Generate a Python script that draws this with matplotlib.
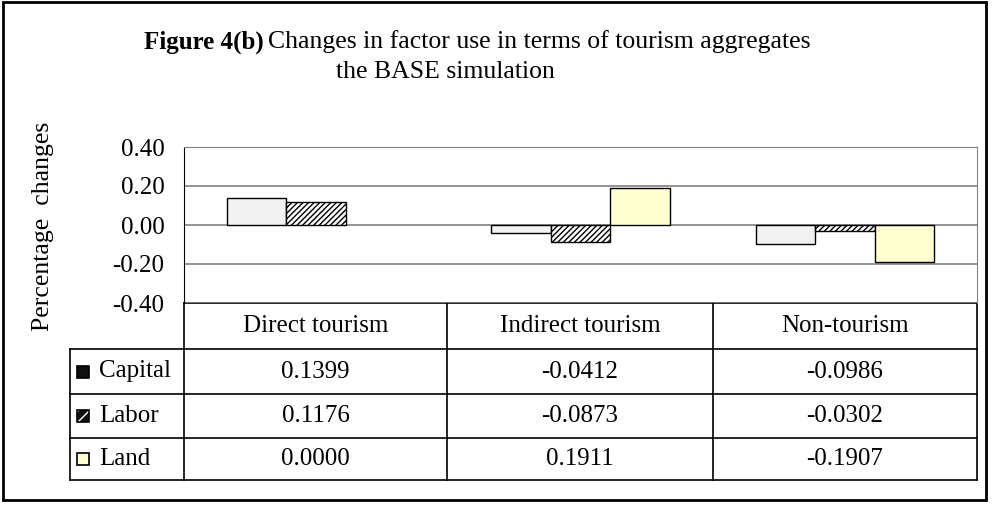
import matplotlib
matplotlib.use("Agg")
import matplotlib.pyplot as plt
from matplotlib.patches import Rectangle
import numpy as np

categories = ["Direct tourism", "Indirect tourism", "Non-tourism"]
series = ["Capital", "Labor", "Land"]
capital = [0.1399, -0.0412, -0.0986]
labor = [0.1176, -0.0873, -0.0302]
land = [0.0000, 0.1911, -0.1907]
yticks = [0.40, 0.20, 0.00, -0.20, -0.40]

plt.rcParams['font.family'] = ['Liberation Serif', 'DejaVu Serif']
plt.rcParams['hatch.linewidth'] = 1.0

W, H = 997, 508
FS = 18
fig = plt.figure(figsize=(W / 100, H / 100), dpi=100)

# overlay in pixel coords
ov = fig.add_axes([0, 0, 1, 1], zorder=0)
ov.set_xlim(0, W)
ov.set_ylim(H, 0)
ov.axis('off')

# outer border
ov.add_patch(Rectangle((3, 2), 983, 498, fill=False, ec='black', lw=2.0))

# plot area
L, R, T, B = 184, 977, 147, 303
ax = fig.add_axes([L / W, (H - B) / H, (R - L) / W, (B - T) / H], zorder=2)
ax.set_facecolor('none')
ax.set_xlim(0, 3)
ax.set_ylim(-0.4, 0.4)
ax.set_yticks(yticks)
ax.set_yticklabels([f"{v:.2f}" for v in yticks], fontsize=FS)
ax.tick_params(axis='y', length=0, pad=14)
ax.set_xticks([])
for y in yticks:
    ax.axhline(y, color='#808080', lw=1.2, zorder=0)
ax.spines['left'].set_color('black')
for s in ['top', 'right']:
    ax.spines[s].set_color('#808080')
ax.spines['bottom'].set_visible(False)

x = np.arange(3) + 0.5
bw = 0.225
styles = [
    dict(facecolor='#F2F2F2', edgecolor='black', hatch=None),
    dict(facecolor='white', edgecolor='black', hatch='//////'),
    dict(facecolor='#FFFFD0', edgecolor='black', hatch=None),
]
for i, vals in enumerate([capital, labor, land]):
    lws = [1.0 if v != 0 else 0.0 for v in vals]
    ax.bar(x + (i - 1) * bw, vals, width=bw, lw=lws, zorder=3, **styles[i])

# y label
ov.text(43, 226, "Percentage  changes", rotation=90, fontsize=FS + 0.5,
        ha='center', va='center')

# title
ov.text(264, 42, "Figure 4(b)", fontsize=FS, fontweight='bold',
        ha='right', va='center')
ov.text(268, 42, "Changes in factor use in terms of tourism aggregates",
        fontsize=FS + 0.5, ha='left', va='center')
ov.text(445, 72, "the BASE simulation", fontsize=FS + 0.5, ha='center', va='center')

# table
rows_y = [303, 349, 394, 438, 480]
cols_x = [70, 184, 447, 713, 977]
lc = 'black'
ov.plot([cols_x[1], cols_x[4]], [rows_y[0], rows_y[0]], color=lc, lw=1.2)
for yy in rows_y[1:]:
    ov.plot([cols_x[0], cols_x[4]], [yy, yy], color=lc, lw=1.2)
ov.plot([cols_x[0], cols_x[0]], [rows_y[1], rows_y[4]], color=lc, lw=1.2)
for xx in cols_x[1:]:
    ov.plot([xx, xx], [rows_y[0], rows_y[4]], color=lc, lw=1.2)

for j, c in enumerate(categories):
    cx = (cols_x[j + 1] + cols_x[j + 2]) / 2
    ov.text(cx, (rows_y[0] + rows_y[1]) / 2, c, fontsize=FS, ha='center', va='center')

legend_face = ['#111111', '#111111', '#FFFFD0']
for i, (name, vals) in enumerate(zip(series, [capital, labor, land])):
    cy = (rows_y[i + 1] + rows_y[i + 2]) / 2
    ov.add_patch(Rectangle((77, cy - 6), 12, 12, lw=0, facecolor=legend_face[i]))
    if name == "Labor":
        ov.add_patch(Rectangle((77, cy - 6), 12, 12, lw=0, fill=False,
                               edgecolor='white', hatch='///'))
    ov.add_patch(Rectangle((77, cy - 6), 12, 12, lw=1.2, fill=False, edgecolor='black'))
    ov.text(99, cy, name, fontsize=FS, ha='left', va='center')
    for j, v in enumerate(vals):
        cx = (cols_x[j + 1] + cols_x[j + 2]) / 2
        ov.text(cx, cy, f"{v:.4f}", fontsize=FS, ha='center', va='center')

fig.savefig("out.png", dpi=100)
